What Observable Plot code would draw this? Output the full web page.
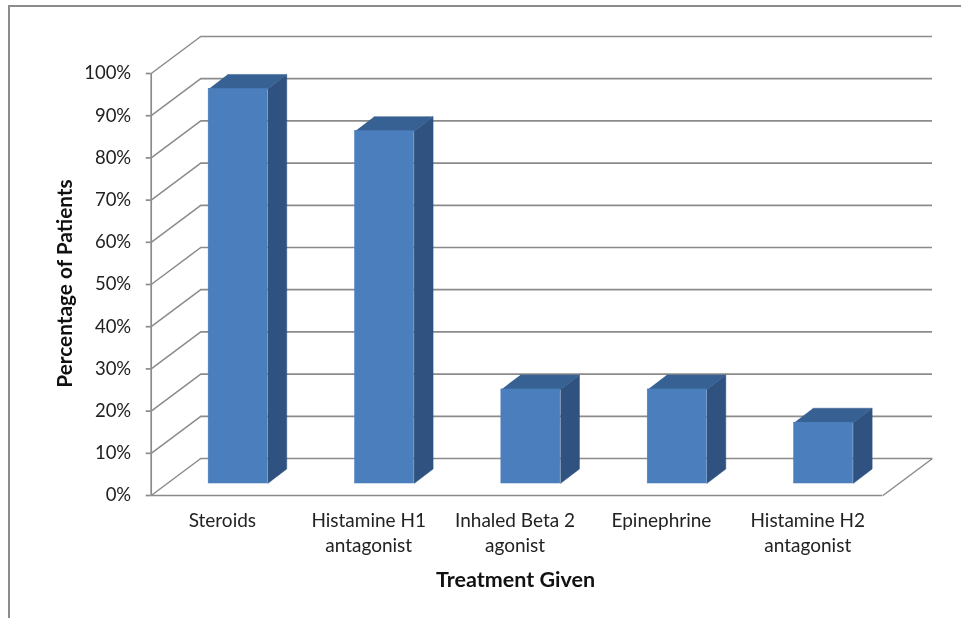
<!DOCTYPE html>
<html>
<head>
<meta charset="utf-8">
<script src="https://cdn.jsdelivr.net/npm/d3@7"></script>
<script src="https://cdn.jsdelivr.net/npm/@observablehq/plot@0.6"></script>
<style>
  html, body { margin: 0; padding: 0; background: #fff; }
  #wrap { position: relative; width: 961px; height: 618px; overflow: hidden; }
  #frame { position: absolute; left: 8px; top: 5px; width: 960px; height: 620px;
           border-left: 2px solid #8c8c8c; border-top: 2px solid #8c8c8c; }
  #chart { position: absolute; left: 0; top: 0; filter: blur(0.4px); }
  #chart svg { display: block; background: transparent !important; }
</style>
</head>
<body>
<div id="wrap"><div id="frame"></div><div id="chart"></div></div>
<script>
const categories = ["Steroids", "Histamine H1\nantagonist", "Inhaled Beta 2\nagonist", "Epinephrine", "Histamine H2\nantagonist"];
const values = [93.5, 83.5, 22.3, 22.3, 14.4];
const yTicks = [0, 10, 20, 30, 40, 50, 60, 70, 80, 90, 100];

const xTitle = "Treatment Given";
const yTitle = "Percentage of Patients";

// 3D box geometry in data units (categories on x, percent on y)
const wallDX = 49.5 / 146.2, wallDY = 8.77;
const barHalf = 0.2018;
const barFrontDX = 13.8 / 146.2, barBackDX = 32.8 / 146.2;
const barFrontDY = 2.84, barBackDY = 6.28;
const xEnd = 5 + wallDX;

const bars = values.map((v, i) => {
  const c = i + 0.5;
  return {
    id: i, v,
    x1: c - barHalf + barFrontDX, x2: c + barHalf + barFrontDX,
    bx1: c - barHalf + barBackDX, bx2: c + barHalf + barBackDX,
    y0: barFrontDY, yt: v + barFrontDY, by0: barBackDY, byt: v + barBackDY
  };
});
const side = bars.flatMap(b => [
  {id: b.id, x: b.x2, y: b.y0}, {id: b.id, x: b.bx2, y: b.by0},
  {id: b.id, x: b.bx2, y: b.byt}, {id: b.id, x: b.x2, y: b.yt}
]);
const top_ = bars.flatMap(b => [
  {id: b.id, x: b.x1, y: b.yt}, {id: b.id, x: b.x2, y: b.yt},
  {id: b.id, x: b.bx2, y: b.byt}, {id: b.id, x: b.bx1, y: b.byt}
]);

const grid = "#8b8b8b";
const chart = Plot.plot({
  width: 961, height: 618,
  marginLeft: 150.7, marginRight: 29, marginTop: 36, marginBottom: 123,
  style: {fontFamily: "Lato, 'Open Sans', sans-serif", background: "transparent", overflow: "visible"},
  x: {domain: [0, xEnd]},
  y: {domain: [0, 100 + wallDY]},
  marks: [
    // back wall lines
    Plot.ruleY(yTicks, {y: d => d + wallDY, x1: wallDX, x2: xEnd, stroke: grid, strokeWidth: 1.7}),
    // left wall diagonals
    Plot.link(yTicks, {x1: 0, y1: d => d, x2: wallDX, y2: d => d + wallDY, stroke: grid, strokeWidth: 1.5}),
    // left axis and floor
    Plot.ruleX([0], {y1: 0, y2: 100, stroke: grid, strokeWidth: 1.7}),
    Plot.ruleY([0], {x1: 0, x2: 5, stroke: grid, strokeWidth: 1.7}),
    Plot.link([0], {x1: 5, y1: 0, x2: xEnd, y2: wallDY, stroke: grid, strokeWidth: 1.5}),
    // bars
    Plot.line(side, {x: "x", y: "y", z: "id", fill: "#2f5280", stroke: "#2f5280", strokeWidth: 0.5}),
    Plot.line(top_, {x: "x", y: "y", z: "id", fill: "#386193", stroke: "#386193", strokeWidth: 0.5}),
    Plot.rect(bars, {x1: "x1", x2: "x2", y1: "y0", y2: "yt", fill: "#4b7ebc", stroke: "#4b7ebc", strokeWidth: 0.5}),
    // axes
    Plot.axisY(yTicks, {
      tickSize: 5, tickPadding: 15, tickFormat: d => d + "%", stroke: grid,
      fontSize: 18.5, fill: "#222", label: null, strokeWidth: 1.7
    }),
    Plot.axisX(categories.map((_, i) => i + 0.5), {
      tickSize: 0, tickPadding: 14, dx: -2, tickFormat: d => categories[d - 0.5],
      fontSize: 19, fill: "#222", label: null, lineHeight: 1.3, lineAnchor: "top"
    }),
    Plot.text([xTitle], {x: 2.5, y: 0, dx: -1.5, dy: 85, text: d => d, fontSize: 21.5, fontWeight: 700, fill: "#111"}),
    Plot.text([yTitle], {x: 0, y: 50, dx: -86, dy: -1, rotate: -90, text: d => d, fontSize: 20.8, fontWeight: 700, fill: "#111"})
  ]
});
document.getElementById("chart").appendChild(chart);
</script>
</body>
</html>
